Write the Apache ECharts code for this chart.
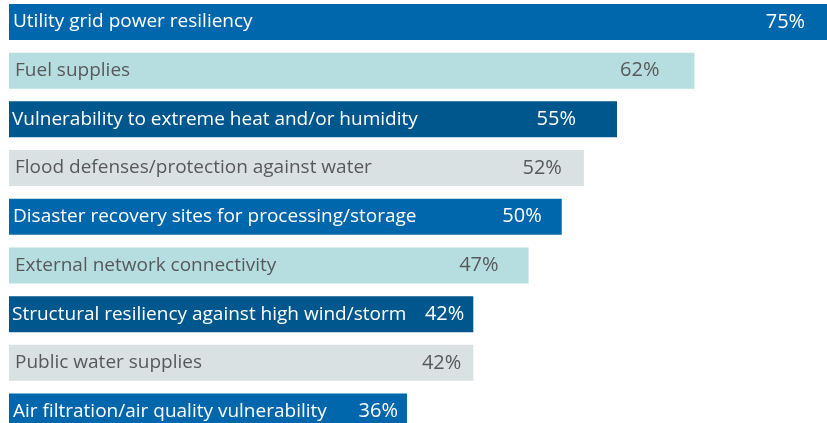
<!DOCTYPE html>
<html>
<head>
<meta charset="utf-8">
<script src="https://cdn.jsdelivr.net/npm/echarts@6/dist/echarts.min.js"></script>
<style>
  html, body { margin: 0; padding: 0; background: #fff; }
  #chart { width: 827px; height: 423px; }
</style>
</head>
<body>
<div id="chart"></div>
<script>
// categories top to bottom
var categories = [
  "Utility grid power resiliency",
  "Fuel supplies",
  "Vulnerability to extreme heat and/or humidity",
  "Flood defenses/protection against water",
  "Disaster recovery sites for processing/storage",
  "External network connectivity",
  "Structural resiliency against high wind/storm",
  "Public water supplies",
  "Air filtration/air quality vulnerability"
];
var values = [75, 62, 55, 52, 50, 47, 42, 42, 36];

// styling per bar (colour cycle + gap between value label and bar end)
var barColors = ["#0067ad", "#b6dee1", "#00578e", "#d9e1e3"];
var textColors = ["#ffffff", "#58595b", "#ffffff", "#58595b"];
var namePad = [4, 6, 3, 6];
var valuePad = [33, 35, 41, 22, 20, 30, 9, 12, 9];

var chart = echarts.init(document.getElementById("chart"));

var nameData = values.map(function (v, i) {
  return {
    value: v,
    itemStyle: { color: barColors[i % 4] },
    label: { color: textColors[i % 4], distance: namePad[i % 4] }
  };
});
var valueData = values.map(function (v, i) {
  return {
    value: v,
    label: { color: textColors[i % 4], distance: valuePad[i] }
  };
});

chart.setOption({
  animation: false,
  grid: {
    left: 9, top: -2.4, width: 884.4, height: 438.3,
    outerBoundsMode: "none", containLabel: false
  },
  xAxis: { type: "value", min: 0, max: 80, show: false },
  yAxis: {
    type: "category",
    data: categories,
    inverse: true,
    show: false
  },
  series: [
    {
      type: "bar",
      data: nameData,
      barWidth: 36,
      label: {
        show: true,
        position: "insideLeft",
        fontFamily: "Open Sans",
        fontSize: 19,
        formatter: function (p) { return p.name; }
      }
    },
    {
      type: "bar",
      data: valueData,
      barWidth: 36,
      barGap: "-100%",
      itemStyle: { color: "transparent" },
      label: {
        show: true,
        position: "insideRight",
        fontFamily: "Open Sans",
        fontSize: 20,
        formatter: "{c}%"
      }
    }
  ]
});
</script>
</body>
</html>
